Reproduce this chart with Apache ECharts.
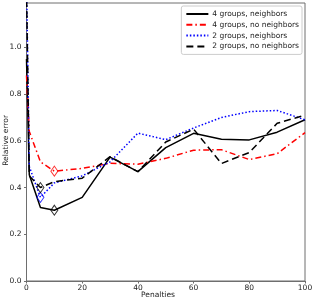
<!DOCTYPE html>
<html><head><meta charset="utf-8">
<script src="https://cdn.jsdelivr.net/npm/echarts@6/dist/echarts.min.js"></script>
<style>html,body{margin:0;padding:0;background:#fff}#c{width:316px;height:303px}</style>
</head><body><div id="c"></div>
<script>
const penalties = [0, 1, 5, 10, 20, 30, 40, 50, 60, 70, 80, 90, 100];
const g4Neighbors   = [0.95, 0.455, 0.315, 0.303, 0.358, 0.530, 0.468, 0.571, 0.632, 0.607, 0.604, 0.637, 0.690];
const g4NoNeighbors = [0.88, 0.640, 0.510, 0.470, 0.482, 0.504, 0.500, 0.525, 0.560, 0.562, 0.520, 0.545, 0.635];
const g2Neighbors   = [1.30, 0.490, 0.358, 0.420, 0.450, 0.510, 0.633, 0.605, 0.655, 0.700, 0.725, 0.730, 0.690];
const g2NoNeighbors = [1.25, 0.450, 0.400, 0.425, 0.440, 0.532, 0.468, 0.595, 0.650, 0.503, 0.550, 0.675, 0.710];
const seriesNames = ['4 groups, neighbors', '4 groups, no neighbors', '2 groups, neighbors', '2 groups, no neighbors'];
// highlighted minima (diamond markers): [penalty, value]
const minMarks = [[10, 0.303], [10, 0.470], [5, 0.358], [5, 0.400]];
const yTicks = [0.0, 0.2, 0.4, 0.6, 0.8, 1.0];
const xTitle = 'Penalties';
const yTitle = 'Relative error';

const colors = ['#000000', '#ff0000', '#0000ff', '#000000'];
const dashes = ['solid', [6, 3, 1.5, 3], [1.5, 2], [7, 4]];
const datas = [g4Neighbors, g4NoNeighbors, g2Neighbors, g2NoNeighbors];

const series = [];
for (let i = 0; i < 4; i++) {
  series.push({
    name: seriesNames[i], type: 'line', symbol: 'none', clip: true,
    data: penalties.map((p, j) => [p, datas[i][j]]),
    lineStyle: {color: colors[i], width: 1.5, type: dashes[i]},
    itemStyle: {color: colors[i]},
    z: 3
  });
  series.push({
    name: 'min' + i, type: 'scatter', symbol: 'diamond', symbolSize: [7, 10],
    data: [minMarks[i]],
    itemStyle: {color: 'rgba(255,255,255,0)', borderColor: colors[i], borderWidth: 1},
    z: 4
  });
}

const font = {fontFamily: 'DejaVu Sans', fontSize: 7.5, color: '#222'};
const chart = echarts.init(document.getElementById('c'));
chart.setOption({
  animation: false,
  grid: {left: 26.5, right: 11, top: 3, bottom: 22, outerBoundsMode: 'none', containLabel: false,
    show: true, borderColor: '#6e6e6e', borderWidth: 1},
  legend: {
    data: seriesNames.map(n => ({name: n})),
    orient: 'vertical', right: 14, top: 6,
    itemWidth: 22, itemHeight: 8, itemGap: 2.8,
    padding: [4, 3, 4, 4],
    itemStyle: {opacity: 0},
    backgroundColor: '#fff', borderColor: '#cccccc', borderWidth: 1, borderRadius: 2,
    textStyle: Object.assign({padding: [0,0,0,-1]}, font)
  },
  graphic: [
    {type: 'text', left: 2.5, top: 115, rotation: Math.PI / 2,
     style: {text: yTitle, font: '7.5px "DejaVu Sans"', fill: '#222'}},
    {type: 'text', left: 'center', top: 291,
     style: {text: xTitle, font: '7.5px "DejaVu Sans"', fill: '#222'}}
  ],
  xAxis: {
    type: 'value', min: 0, max: 100, interval: 20,
    axisLine: {show: true, lineStyle: {color: '#6e6e6e'}},
    axisTick: {show: true, length: 2.5, lineStyle: {color: '#6e6e6e'}},
    axisLabel: Object.assign({margin: 3}, font),
    splitLine: {show: false}
  },
  yAxis: {
    type: 'value', min: 0, max: 1.19, interval: 0.2,
    axisLine: {show: true, lineStyle: {color: '#6e6e6e'}},
    axisTick: {show: true, length: 2.5, lineStyle: {color: '#6e6e6e'}},
    axisLabel: Object.assign({margin: 5, showMaxLabel: false,
      formatter: v => yTicks.some(t => Math.abs(t - v) < 1e-6) ? v.toFixed(1) : ''}, font),
    splitLine: {show: false}
  },
  series: series
});
</script></body></html>
